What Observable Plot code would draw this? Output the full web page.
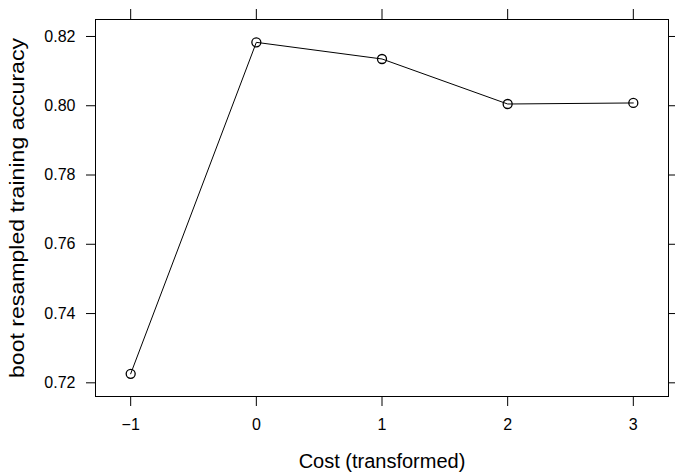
<!DOCTYPE html>
<html>
<head>
<meta charset="utf-8">
<script src="https://cdn.jsdelivr.net/npm/d3@7"></script>
<script src="https://cdn.jsdelivr.net/npm/@observablehq/plot@0.6"></script>
<style>
  html, body { margin: 0; padding: 0; background: #fff; }
  svg { display: block; }
</style>
</head>
<body>
<div id="chart"></div>
<script>
const cost = [-1, 0, 1, 2, 3];
const accuracy = [0.7226, 0.8183, 0.8135, 0.8005, 0.8008];
const xTicks = [-1, 0, 1, 2, 3];
const yTicks = [0.72, 0.74, 0.76, 0.78, 0.80, 0.82];
const xTitle = "Cost (transformed)";
const yTitle = "boot resampled training accuracy";

const data = cost.map((c, i) => ({cost: c, acc: accuracy[i]}));
const font = "'Liberation Sans', Arial, Helvetica, sans-serif";

const chart = Plot.plot({
  width: 675,
  height: 476,
  marginLeft: 95,
  marginTop: 19,
  marginRight: 7,
  marginBottom: 80,
  style: {fontFamily: font, fontSize: "16px", color: "#000", background: "#fff"},
  x: {domain: [-1.28, 3.28], ticks: xTicks},
  y: {domain: [0.71605, 0.8249], ticks: yTicks},
  marks: [
    Plot.axisX({anchor: "bottom", ticks: xTicks, tickSize: 10, tickPadding: 12, fontSize: 16, label: null, tickFormat: d => d3.format("d")(d).replace("-", "\u2212")}),
    Plot.axisX({anchor: "top", ticks: xTicks, tickSize: 11, tickFormat: () => "", label: null}),
    Plot.axisY({anchor: "left", ticks: yTicks, tickSize: 9, tickPadding: 11, fontSize: 16, label: null, tickFormat: d3.format(".2f")}),
    Plot.axisY({anchor: "right", ticks: yTicks, tickSize: 8, tickFormat: () => "", label: null}),
    Plot.frame({stroke: "#000", strokeWidth: 1}),
    Plot.line(data, {x: "cost", y: "acc", stroke: "#000", strokeWidth: 1}),
    Plot.dot(data, {x: "cost", y: "acc", r: 4.5, stroke: "#000", fill: "none", strokeWidth: 1.3}),
    Plot.text([xTitle], {frameAnchor: "bottom", dy: 71, fontSize: 20, fill: "#000", textAnchor: "middle", text: d => d}),
    Plot.text([yTitle], {frameAnchor: "left", dx: -78, rotate: -90, fontSize: 20, fill: "#000", textAnchor: "middle", text: d => d})
  ]
});
// The reference's rotated axis title is drawn stretched along its length
d3.select(chart).selectAll("text").filter(function() { return this.textContent === yTitle; })
  .attr("textLength", 340).attr("lengthAdjust", "spacingAndGlyphs");
document.getElementById("chart").append(chart);
</script>
</body>
</html>
